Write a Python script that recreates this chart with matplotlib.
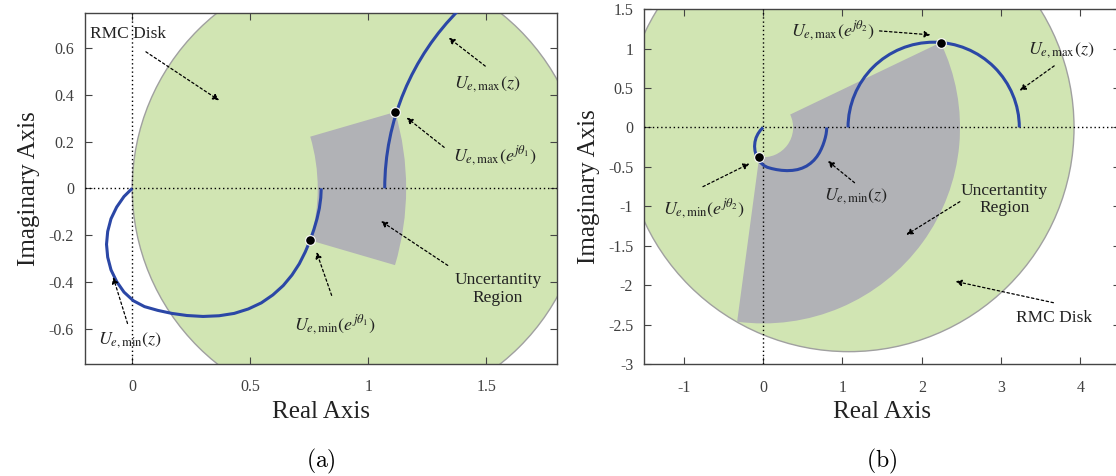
import numpy as np
import matplotlib
matplotlib.use('Agg')
import matplotlib.pyplot as plt
from matplotlib.patches import Circle, Wedge, Arc

plt.rcParams['font.family'] = ['Liberation Serif', 'DejaVu Serif']
plt.rcParams['mathtext.fontset'] = 'stix'
plt.rcParams['axes.unicode_minus'] = False

# RMC disk: centre on the real axis and radius
disk_a = (0.96, 0.96)
disk_b = (1.08, 2.84)

# U_e,max(z) over the upper unit semicircle is a half circle
umax_center = 2.15
umax_radius = 1.08

# U_e,min(z), traced from z = 1 to z = -1
umin_re = [0.801, 0.799, 0.793, 0.783, 0.770, 0.754, 0.733, 0.708, 0.677, 0.640,
           0.596, 0.547, 0.492, 0.432, 0.368, 0.300, 0.232, 0.168, 0.108, 0.052,
           0.005, -0.035, -0.066, -0.090, -0.104, -0.109, -0.104, -0.090, -0.066, -0.035,
           0.000]
umin_im = [0.000, -0.040, -0.085, -0.130, -0.175, -0.222, -0.272, -0.322, -0.370, -0.415,
           -0.455, -0.489, -0.515, -0.534, -0.544, -0.547, -0.543, -0.534, -0.521, -0.505,
           -0.480, -0.443, -0.398, -0.348, -0.294, -0.239, -0.184, -0.130, -0.080, -0.035,
           0.000]

# bounds evaluated at the two frequencies
umax_th1 = complex(1.114, 0.326)
umin_th1 = complex(0.754, -0.222)
umax_th2 = complex(2.237, 1.076)
umin_th2 = complex(-0.05, -0.374)

green = '#d1e5b3'
grey = '#b1b2b6'
blue = '#2b47a6'


def arrow(ax, tail, head):
    ax.annotate('', xy=head, xytext=tail, zorder=6,
                arrowprops=dict(arrowstyle='-|>', lw=0.9, ls=(0, (2, 2)), color='black',
                                mutation_scale=9, shrinkA=0, shrinkB=0))


def draw_panel(ax, disk, umax_pt, umin_pt):
    ax.add_patch(Circle((disk[0], 0), disk[1], fc=green, ec='#a0a0a0', lw=1, zorder=1))
    r_in, r_out = abs(umin_pt), abs(umax_pt)
    ax.add_patch(Wedge((0, 0), r_out, np.degrees(np.angle(umin_pt)), np.degrees(np.angle(umax_pt)),
                       width=r_out - r_in, fc=grey, ec='none', zorder=2))
    ax.axhline(0, color='black', lw=1, ls=(0, (1, 2)), zorder=3)
    ax.axvline(0, color='black', lw=1, ls=(0, (1, 2)), zorder=3)
    ax.add_patch(Arc((umax_center, 0), 2 * umax_radius, 2 * umax_radius, theta1=0, theta2=180,
                     color=blue, lw=2.2, zorder=4))
    ax.plot(umin_re, umin_im, color=blue, lw=2.2, zorder=4, solid_capstyle='butt',
            solid_joinstyle='round')
    for p in (umax_pt, umin_pt):
        ax.plot(p.real, p.imag, 'o', ms=7, mfc='black', mec='white', mew=0.8, zorder=5)
    ax.tick_params(direction='in', top=True, right=True, length=5, width=0.8, colors='#444444',
                   labelcolor='#404040', labelsize=11.5)
    ax.tick_params(axis='x', pad=11)
    ax.tick_params(axis='y', pad=8)
    for s in ax.spines.values():
        s.set_color('#444444')
        s.set_linewidth(1)
    ax.set_xlabel('Real Axis', fontsize=18, color='#222222', labelpad=4)
    ax.set_ylabel('Imaginary Axis', fontsize=18, color='#222222', labelpad=6)


fig = plt.figure(figsize=(11.16, 4.76), dpi=100)
ax_a = fig.add_axes([0.0762, 0.2353, 0.4229, 0.738])
ax_b = fig.add_axes([0.5773, 0.2347, 0.4263, 0.7463])

lab = dict(fontsize=13, ha='center', va='center', color='#222222', zorder=7)

# panel (a)
draw_panel(ax_a, disk_a, umax_th1, umin_th1)
ax_a.set_xlim(-0.2, 1.8)
ax_a.set_ylim(-0.75, 0.75)
ax_a.set_xticks([0, 0.5, 1, 1.5], ['0', '0.5', '1', '1.5'])
ax_a.set_yticks([-0.6, -0.4, -0.2, 0, 0.2, 0.4, 0.6], ['-0.6', '-0.4', '-0.2', '0', '0.2', '0.4', '0.6'])
ax_a.text(-0.018, 0.657, 'RMC Disk', fontsize=12.5, ha='center', va='center', color='#222222')
arrow(ax_a, (0.058, 0.583), (0.368, 0.376))
ax_a.text(1.506, 0.444, r'$U_{e,\max}\left(z\right)$', **lab)
arrow(ax_a, (1.496, 0.522), (1.341, 0.643))
ax_a.text(1.535, 0.139, r'$U_{e,\max}\left(e^{j\theta_1}\right)$', **lab)
arrow(ax_a, (1.322, 0.175), (1.163, 0.302))
ax_a.text(1.549, -0.43, 'Uncertantity\nRegion', fontsize=12.5, ha='center', va='center',
          color='#222222', linespacing=1.1)
arrow(ax_a, (1.337, -0.329), (1.054, -0.14))
ax_a.text(0.86, -0.584, r'$U_{e,\min}\left(e^{j\theta_1}\right)$', **lab)
arrow(ax_a, (0.845, -0.457), (0.781, -0.272))
ax_a.text(-0.007, -0.648, r'$U_{e,\min}\left(z\right)$', **lab)
arrow(ax_a, (-0.02, -0.577), (-0.081, -0.379))

# panel (b)
draw_panel(ax_b, disk_b, umax_th2, umin_th2)
ax_b.set_xlim(-1.5, 4.5)
ax_b.set_ylim(-3, 1.5)
ax_b.set_xticks([-1, 0, 1, 2, 3, 4], ['-1', '0', '1', '2', '3', '4'])
ax_b.set_yticks([-3, -2.5, -2, -1.5, -1, -0.5, 0, 0.5, 1, 1.5],
                ['-3', '-2.5', '-2', '-1.5', '-1', '-0.5', '0', '0.5', '1', '1.5'])
ax_b.text(0.883, 1.223, r'$U_{e,\max}\left(e^{j\theta_2}\right)$', **lab)
arrow(ax_b, (1.467, 1.223), (2.111, 1.173))
ax_b.text(3.76, 0.98, r'$U_{e,\max}\left(z\right)$', **lab)
arrow(ax_b, (3.67, 0.78), (3.235, 0.467))
ax_b.text(-0.75, -1.03, r'$U_{e,\min}\left(e^{j\theta_2}\right)$', **lab)
arrow(ax_b, (-0.76, -0.75), (-0.174, -0.458))
ax_b.text(1.175, -0.87, r'$U_{e,\min}\left(z\right)$', **lab)
arrow(ax_b, (1.152, -0.70), (0.815, -0.425))
ax_b.text(3.04, -0.91, 'Uncertantity\nRegion', fontsize=12.5, ha='center', va='center',
          color='#222222', linespacing=1.1)
arrow(ax_b, (2.48, -0.94), (1.805, -1.36))
ax_b.text(3.67, -2.41, 'RMC Disk', fontsize=12.5, ha='center', va='center', color='#222222')
arrow(ax_b, (3.66, -2.22), (2.425, -1.95))

fig.text(321 / 1116, 1 - 461 / 476, r'$\mathrm{(a)}$', math_fontfamily='cm', fontsize=17,
         ha='center', va='center')
fig.text(882 / 1116, 1 - 461 / 476, r'$\mathrm{(b)}$', math_fontfamily='cm', fontsize=17,
         ha='center', va='center')

fig.savefig('out.png', dpi=100)
